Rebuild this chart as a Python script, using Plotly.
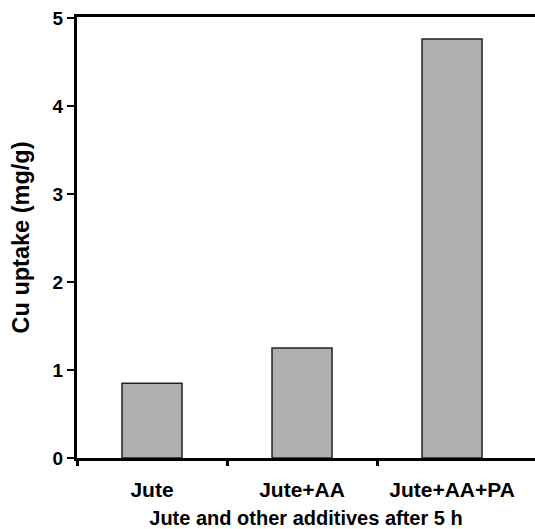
import plotly.graph_objects as go

categories = ["Jute", "Jute+AA", "Jute+AA+PA"]
cu_uptake = [0.85, 1.25, 4.76]
y_ticks = [0, 1, 2, 3, 4, 5]
x_boundary_ticks = [-0.5, 0.5, 1.5]

fig = go.Figure()
fig.add_trace(go.Bar(
    x=categories, y=cu_uptake, width=0.4,
    marker=dict(color="#b0b0b0", line=dict(color="#222222", width=1.5)),
))
# empty helper trace so the tick-only overlay axis is drawn
fig.add_trace(go.Scatter(x=[], y=[], xaxis="x2", yaxis="y", showlegend=False, hoverinfo="skip"))

font_fam = "Liberation Sans, Arial, sans-serif"
fig.update_layout(
    width=535, height=529,
    margin=dict(l=77, r=0, t=17, b=71, autoexpand=False),
    paper_bgcolor="white", plot_bgcolor="white",
    showlegend=False,
    font=dict(family=font_fam, color="black", size=16),
    xaxis=dict(
        type="category", range=[-0.5, 2.553],
        showline=True, linecolor="black", linewidth=3, mirror=True,
        ticks="outside", ticklen=7, tickwidth=0, tickcolor="rgba(0,0,0,0)",
        showgrid=False, zeroline=False, ticklabelstandoff=4,
        tickfont=dict(family=font_fam, size=21, color="black", weight="bold"),
        title=dict(text="<b>Jute and other additives after 5 h</b>", font=dict(size=20), standoff=22),
    ),
    xaxis2=dict(
        overlaying="x", side="bottom", range=[-0.5, 2.553],
        tickvals=x_boundary_ticks, showticklabels=False,
        ticks="outside", ticklen=7, tickwidth=3, tickcolor="black",
        showline=False, showgrid=False, zeroline=False, automargin=False,
    ),
    yaxis=dict(
        range=[0, 5.01], tickvals=y_ticks,
        showline=True, linecolor="black", linewidth=3,
        ticks="outside", ticklen=7, tickwidth=2, tickcolor="black",
        showgrid=False, zeroline=False,
        tickfont=dict(family=font_fam, size=19, color="black", weight="bold"),
        title=dict(text="<b>Cu uptake (mg/g)</b>", font=dict(size=23.5), standoff=17),
    ),
)

fig.write_html("out.html")
